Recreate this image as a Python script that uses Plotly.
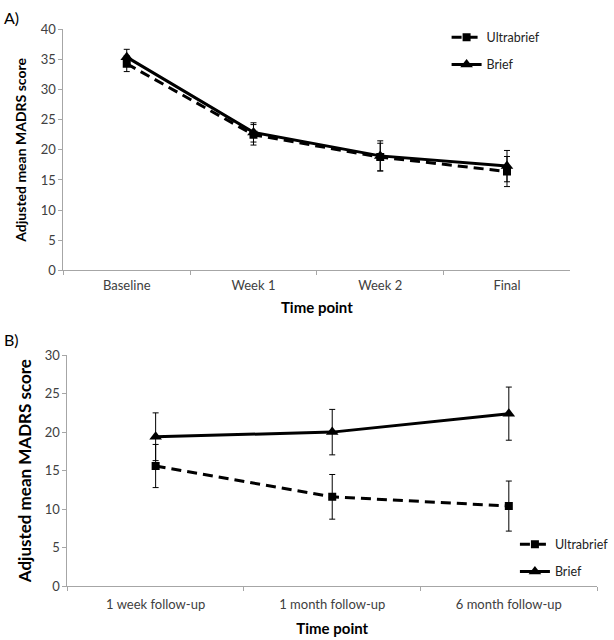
import plotly.graph_objects as go

# ---------------- data ----------------
cats_a = ["Baseline", "Week 1", "Week 2", "Final"]
ultra_a = [34.3, 22.5, 18.8, 16.4]
ultra_a_err = [1.3, 1.7, 2.3, 2.5]
brief_a = [35.4, 22.9, 19.0, 17.3]
brief_a_err = [1.3, 1.6, 2.5, 2.6]

cats_b = ["1 week follow-up", "1 month follow-up", "6 month follow-up"]
ultra_b = [15.6, 11.6, 10.4]
ultra_b_err = [2.8, 2.9, 3.25]
brief_b = [19.4, 20.0, 22.4]
brief_b_err = [3.1, 2.95, 3.45]

FONT = "Lato, 'Open Sans', sans-serif"
W, H = 614, 640

fig = go.Figure()

def add_series(x, y, err, name, dash, symbol, msize, xa, ya, legend, group):
    fig.add_trace(go.Scatter(
        x=x, y=y, name=name, mode="lines+markers",
        line=dict(color="black", width=3, dash=dash),
        marker=dict(symbol=symbol, size=msize, color="black"),
        error_y=dict(type="data", array=err, visible=True, color="black",
                     thickness=1, width=3),
        xaxis=xa, yaxis=ya, legend=legend, legendgroup=group,
    ))

add_series(cats_a, ultra_a, ultra_a_err, "Ultrabrief", "10px,6px", "square", 8, "x", "y", "legend", "a1")
add_series(cats_a, brief_a, brief_a_err, "Brief", "solid", "triangle-up", 11, "x", "y", "legend", "a2")
add_series(cats_b, ultra_b, ultra_b_err, "Ultrabrief", "10px,6px", "square", 8, "x2", "y2", "legend2", "b1")
add_series(cats_b, brief_b, brief_b_err, "Brief", "solid", "triangle-up", 11, "x2", "y2", "legend2", "b2")

axcol = "#a6a6a6"
tickfont = dict(family=FONT, size=13, color="#404040")
titlefont = dict(family=FONT, size=14, color="black", weight="bold")

common_x = dict(type="category", tickson="boundaries", ticks="outside", ticklen=4,
                tickcolor=axcol, showline=True, linecolor=axcol, linewidth=1,
                showgrid=False, tickfont=tickfont, zeroline=False)
common_y = dict(ticks="outside", ticklen=4, tickcolor=axcol, showline=True,
                linecolor=axcol, linewidth=1, showgrid=False, zeroline=False,
                tickfont=tickfont, dtick=5)

legfont = dict(family=FONT, size=12.5, color="#222")

fig.update_layout(
    width=W, height=H,
    margin=dict(l=0, r=0, t=0, b=0),
    paper_bgcolor="white", plot_bgcolor="white",
    font=dict(family=FONT, color="black"),
    xaxis=dict(common_x, domain=[64 / W, 576 / W], anchor="y", range=[-0.5, 3.5],
               ticklabelstandoff=3,
               title=dict(text="Time point", font=dict(titlefont, size=15), standoff=10)),
    yaxis=dict(common_y, domain=[1 - 269 / H, 1 - 22 / H], anchor="x", range=[0, 40],
               title=dict(text="Adjusted mean MADRS score", font=titlefont, standoff=10)),
    xaxis2=dict(common_x, domain=[68 / W, 603 / W], anchor="y2", range=[-0.5, 2.5],
                ticklabelstandoff=6,
                title=dict(text="Time point", font=dict(titlefont, size=15), standoff=12)),
    yaxis2=dict(common_y, domain=[1 - 593 / H, 1 - 356 / H], anchor="x2", range=[0, 30],
                title=dict(text="Adjusted mean MADRS score", font=dict(titlefont, size=17), standoff=8)),
    legend=dict(x=451 / W, y=1 - 15 / H, xanchor="left", yanchor="top",
                bgcolor="rgba(0,0,0,0)", font=legfont,
                traceorder="grouped", tracegroupgap=8, itemwidth=30),
    legend2=dict(x=520 / W, y=1 - 535 / H, xanchor="left", yanchor="top",
                 bgcolor="rgba(0,0,0,0)", font=legfont,
                 traceorder="grouped", tracegroupgap=8, itemwidth=30),
    annotations=[
        dict(text="A)", x=2 / W, y=1 - 10 / H, xref="paper", yref="paper",
             xanchor="left", yanchor="middle", showarrow=False,
             font=dict(family=FONT, size=16, color="black")),
        dict(text="B)", x=2 / W, y=1 - 340 / H, xref="paper", yref="paper",
             xanchor="left", yanchor="middle", showarrow=False,
             font=dict(family=FONT, size=16, color="black")),
    ],
    showlegend=True,
)

fig.write_html("out.html", config={"displayModeBar": False},
               post_script="document.body.style.margin='0';document.body.style.overflow='hidden';")
